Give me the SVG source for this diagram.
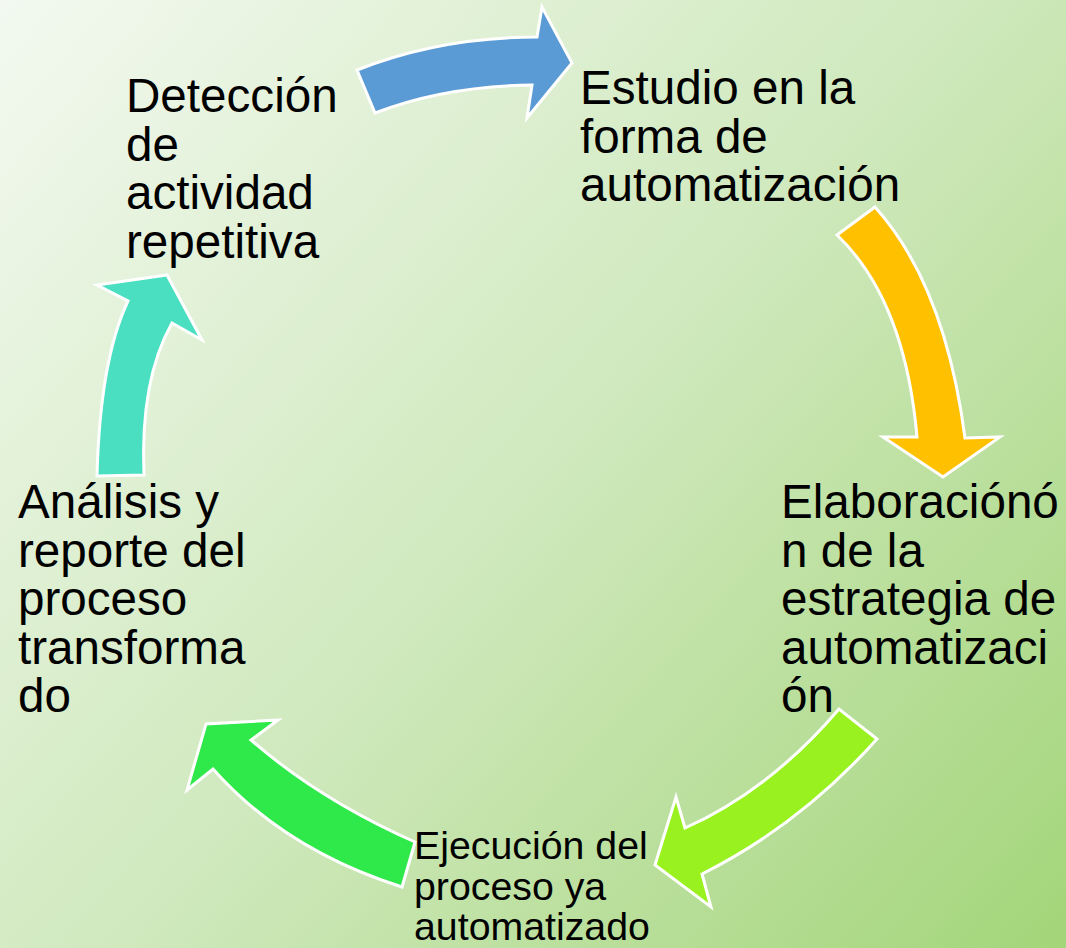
<svg xmlns="http://www.w3.org/2000/svg" width="1066" height="948" viewBox="0 0 1066 948">
<defs>
<linearGradient id="bg" x1="0" y1="0" x2="1066" y2="948" gradientUnits="userSpaceOnUse">
<stop offset="0" stop-color="#F3F9F0"/>
<stop offset="0.5" stop-color="#D0E9BE"/>
<stop offset="1" stop-color="#A3D579"/>
</linearGradient>
<style>
.arr{stroke:#FFFFFF;stroke-width:3;stroke-linejoin:miter}
.lbl{font-family:"Liberation Sans",Arial,sans-serif;font-size:47.6px;fill:#000000}
.lbl2{font-family:"Liberation Sans",Arial,sans-serif;font-size:39.3px;fill:#000000}
</style>
</defs>
<rect x="0" y="0" width="1066" height="948" fill="url(#bg)"/>
<g id="connectors">
<path class="arr" fill="#5B9BD5" d="M357,70 Q440,37 537,37 L542,7 L572,63 L527,118 L532,85 Q445,86 375,113 Z"/>
<path class="arr" fill="#FFC000" d="M875,207 Q945,285 965,438 L1000,437 L943,477 L883,437 L917,437 Q905,300 837,235 Z"/>
<path class="arr" fill="#99F21F" d="M877,739 Q800,825 702,874 L711,907 L655,865 L676,797 L685,828 Q770,790 839,709 Z"/>
<path class="arr" fill="#2FE84A" d="M415,842 Q320,800 251,740 L278,720 L206,724 L187,790 L213,769 Q285,850 402,887 Z"/>
<path class="arr" fill="#4ADFC0" d="M144,475 Q140,380 172,323 L202,340 L167,275 L97,285 L128,301 Q100,360 97,476 Z"/>
</g>
<g id="node-deteccion">
<text class="lbl" x="126" y="112">Detección</text>
<text class="lbl" x="126" y="160.5">de</text>
<text class="lbl" x="126" y="209">actividad</text>
<text class="lbl" x="126" y="257.5">repetitiva</text>
</g>
<g id="node-estudio">
<text class="lbl" x="580" y="104">Estudio en la</text>
<text class="lbl" x="580" y="152.5">forma de</text>
<text class="lbl" x="580" y="201">automatización</text>
</g>
<g id="node-elaboracion">
<text class="lbl" x="781" y="518">Elaboraciónó</text>
<text class="lbl" x="781" y="566.5">n de la</text>
<text class="lbl" x="781" y="615">estrategia de</text>
<text class="lbl" x="781" y="663.5">automatizaci</text>
<text class="lbl" x="781" y="712">ón</text>
</g>
<g id="node-ejecucion">
<text class="lbl2" x="414" y="859">Ejecución del</text>
<text class="lbl2" x="414" y="899.5">proceso ya</text>
<text class="lbl2" x="414" y="940">automatizado</text>
</g>
<g id="node-analisis">
<text class="lbl" x="18" y="518">Análisis y</text>
<text class="lbl" x="18" y="566.5">reporte del</text>
<text class="lbl" x="18" y="615">proceso</text>
<text class="lbl" x="18" y="663.5">transforma</text>
<text class="lbl" x="18" y="712">do</text>
</g>
</svg>
